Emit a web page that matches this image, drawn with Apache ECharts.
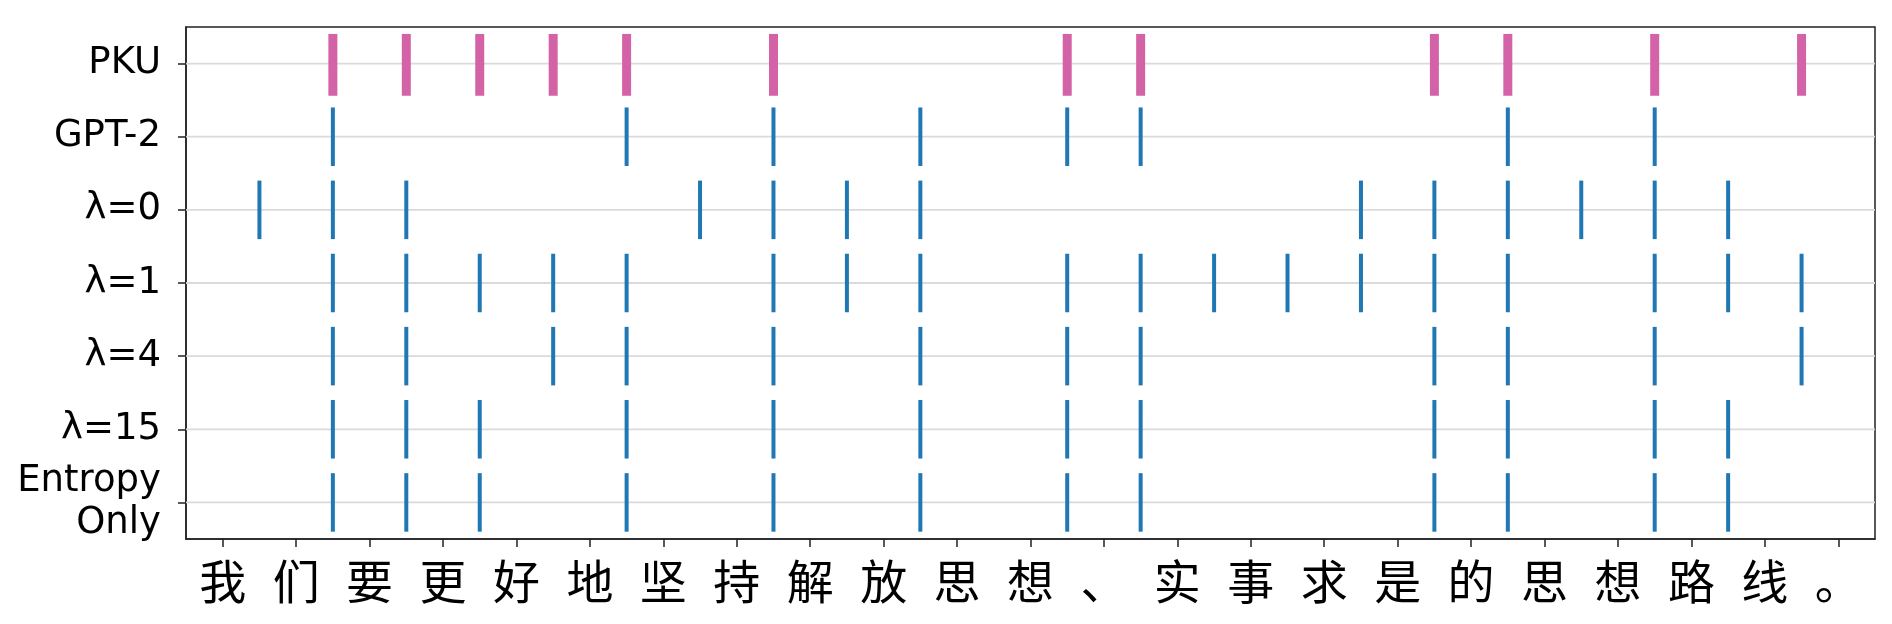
<!DOCTYPE html>
<html>
<head>
<meta charset="utf-8">
<title>segmentation events</title>
<script src="https://cdn.jsdelivr.net/npm/echarts@6/dist/echarts.min.js"></script>
<style>
  html, body { margin: 0; padding: 0; background: #fff; }
  #chart { width: 1892px; height: 624px; }
</style>
</head>
<body>
<div id="chart"></div>
<script>
// characters on the x axis (one tick each)
const tokens = ['我', '们', '要', '更', '好', '地', '坚', '持', '解', '放', '思', '想', '、', '实', '事', '求', '是', '的', '思', '想', '路', '线', '。'];
// rows, top to bottom
const rowNames = ['PKU', 'GPT-2', 'λ=0', 'λ=1', 'λ=4', 'λ=15', 'Entropy\nOnly'];

// word boundaries (between token i and i+1 -> i + 0.5)
const pku = [1.5, 2.5, 3.5, 4.5, 5.5, 7.5, 11.5, 12.5, 16.5, 17.5, 19.5, 21.5];
const gpt2 = [1.5, 5.5, 7.5, 9.5, 11.5, 12.5, 17.5, 19.5];
const lambda0 = [0.5, 1.5, 2.5, 6.5, 7.5, 8.5, 9.5, 15.5, 16.5, 17.5, 18.5, 19.5, 20.5];
const lambda1 = [1.5, 2.5, 3.5, 4.5, 5.5, 7.5, 8.5, 9.5, 11.5, 12.5, 13.5, 14.5, 15.5, 16.5, 17.5, 19.5, 20.5, 21.5];
const lambda4 = [1.5, 2.5, 4.5, 5.5, 7.5, 9.5, 11.5, 12.5, 16.5, 17.5, 19.5, 21.5];
const lambda15 = [1.5, 2.5, 3.5, 5.5, 7.5, 9.5, 11.5, 12.5, 16.5, 17.5, 19.5, 20.5];
const entropyOnly = [1.5, 2.5, 3.5, 5.5, 7.5, 9.5, 11.5, 12.5, 16.5, 17.5, 19.5, 20.5];

const modelRows = [gpt2, lambda0, lambda1, lambda4, lambda15, entropyOnly];

const pkuData = pku.map(x => [x, 0]);
const modelData = [];
modelRows.forEach((row, i) => {
  row.forEach(x => modelData.push([x, i + 1]));
});

// one vertical tick mark per event
function eventLine(color, width, up, down) {
  return function (params, api) {
    const c = api.coord([api.value(0), api.value(1)]);
    const band = api.size([0, 1])[1];
    return {
      type: 'line',
      shape: { x1: c[0], y1: c[1] - up * band, x2: c[0], y2: c[1] + down * band },
      style: { stroke: color, lineWidth: width, lineCap: 'butt' }
    };
  };
}

const chart = echarts.init(document.getElementById('chart'));

const option = {
  animation: false,
  backgroundColor: '#fff',
  grid: {
    left: 186,
    right: 17,
    top: 27,
    bottom: 85,
    show: true,
    borderColor: '#222',
    borderWidth: 1.5,
    backgroundColor: '#fff'
  },
  xAxis: [
    {
      type: 'category',
      data: tokens,
      boundaryGap: true,
      axisLine: { onZero: false, lineStyle: { color: '#222', width: 1.5 } },
      axisTick: { show: true, interval: 0, alignWithLabel: true, length: 8, lineStyle: { color: '#222', width: 1.5 } },
      axisLabel: {
        interval: 0,
        margin: 19,
        color: '#000',
        fontSize: 47,
        fontFamily: 'Noto Sans CJK SC'
      },
      splitLine: { show: false }
    },
    {
      // hidden value axis used to place the events between characters
      type: 'value',
      min: -0.5,
      max: 22.5,
      show: false
    }
  ],
  yAxis: {
    type: 'category',
    data: rowNames,
    inverse: true,
    boundaryGap: true,
    axisLine: { onZero: false, lineStyle: { color: '#222', width: 1.5 } },
    axisTick: { show: true, interval: 0, alignWithLabel: true, length: 8, lineStyle: { color: '#222', width: 1.5 } },
    axisLabel: {
      interval: 0,
      margin: 25,
      color: '#000',
      fontSize: 37,
      lineHeight: 42,
      fontFamily: 'DejaVu Sans',
      align: 'right'
    },
    splitLine: { show: false }
  },
  series: [
    {
      // horizontal grid line through every row
      name: 'rows',
      type: 'custom',
      xAxisIndex: 1,
      yAxisIndex: 0,
      silent: true,
      z: 1,
      data: rowNames.map((n, i) => [0, i]),
      renderItem: function (params, api) {
        const c = api.coord([api.value(0), api.value(1)]);
        const cs = params.coordSys;
        return {
          type: 'line',
          shape: { x1: cs.x, y1: c[1], x2: cs.x + cs.width, y2: c[1] },
          style: { stroke: '#dadada', lineWidth: 1.8 }
        };
      }
    },
    {
      name: 'PKU',
      type: 'custom',
      xAxisIndex: 1,
      yAxisIndex: 0,
      z: 3,
      data: pkuData,
      renderItem: eventLine('#d462a6', 9, 0.405, 0.44)
    },
    {
      name: 'models',
      type: 'custom',
      xAxisIndex: 1,
      yAxisIndex: 0,
      z: 3,
      data: modelData,
      renderItem: eventLine('#1f77b4', 4, 0.4, 0.4)
    }
  ]
};

chart.setOption(option);
</script>
</body>
</html>
